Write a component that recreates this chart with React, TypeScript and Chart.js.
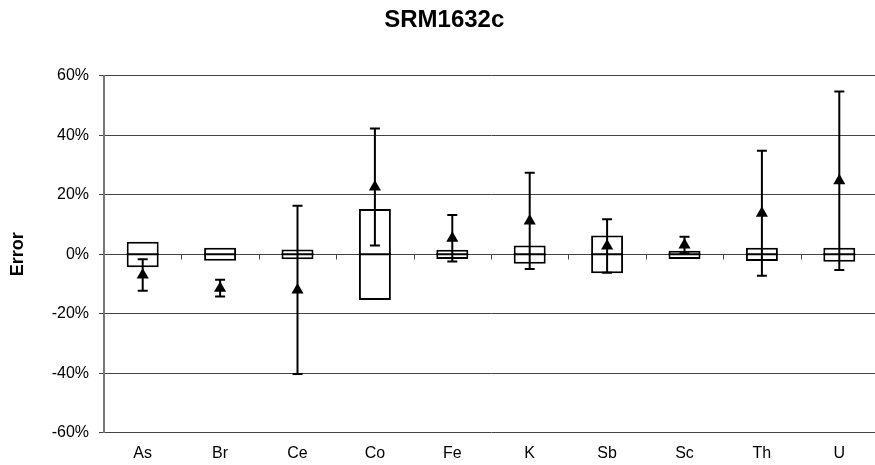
import React, { useEffect, useRef } from "react";
import { Chart, registerables } from "chart.js";

Chart.register(...registerables);

const categories = ["As", "Br", "Ce", "Co", "Fe", "K", "Sb", "Sc", "Th", "U"];
const boxUpper = [4.2, 2.2, 1.6, 15.2, 1.5, 2.9, 6.3, 1.2, 2.2, 2.2];
const boxLower = [-4.4, -2.2, -1.7, -15.4, -1.6, -3.2, -6.4, -1.6, -2.3, -2.5];
const measured = [-7.0, -11.4, -12.0, 22.6, 5.4, 11.2, 2.8, 3.1, 13.8, 24.7];
const uncertainty = [5.3, 2.8, 28.3, 19.7, 7.8, 16.2, 9.0, 2.8, 21.0, 30.0];
const yTicks = [-60, -40, -20, 0, 20, 40, 60];

const FONT = "'Liberation Sans', Arial, Helvetica, sans-serif";

const errorBarPlugin = {
  id: "errorBars",
  beforeDatasetsDraw(chart: any) {
    // small category-boundary ticks on the zero line
    const x = chart.scales.x;
    const y = chart.scales.y;
    const ctx = chart.ctx;
    const y0 = Math.round(y.getPixelForValue(0)) + 0.5;
    ctx.save();
    ctx.strokeStyle = "#444";
    ctx.lineWidth = 1;
    for (let i = 0; i < categories.length - 1; i++) {
      const xp = Math.round((x.getPixelForValue(i) + x.getPixelForValue(i + 1)) / 2) + 0.5;
      ctx.beginPath();
      ctx.moveTo(xp, y0);
      ctx.lineTo(xp, y0 + 5);
      ctx.stroke();
    }
    ctx.restore();
  },
  afterDatasetDraw(chart: any, args: any) {
    if (args.index !== 1) return;
    // box midline at 0
    const y = chart.scales.y;
    const ctx = chart.ctx;
    const y0 = y.getPixelForValue(0);
    ctx.save();
    ctx.strokeStyle = "#000";
    ctx.lineWidth = 2;
    args.meta.data.forEach((bar: any) => {
      ctx.beginPath();
      ctx.moveTo(bar.x - bar.width / 2, y0);
      ctx.lineTo(bar.x + bar.width / 2, y0);
      ctx.stroke();
    });
    ctx.restore();
  },
  beforeDatasetDraw(chart: any, args: any) {
    if (args.index !== 0) return;
    const x = chart.scales.x;
    const y = chart.scales.y;
    const ctx = chart.ctx;
    ctx.save();
    ctx.strokeStyle = "#000";
    ctx.lineWidth = 2;
    const cap = 5;
    measured.forEach((m, i) => {
      const xp = x.getPixelForValue(i);
      const top = y.getPixelForValue(m + uncertainty[i]);
      const bot = y.getPixelForValue(m - uncertainty[i]);
      ctx.beginPath();
      ctx.moveTo(xp, top);
      ctx.lineTo(xp, bot);
      ctx.moveTo(xp - cap, top);
      ctx.lineTo(xp + cap, top);
      ctx.moveTo(xp - cap, bot);
      ctx.lineTo(xp + cap, bot);
      ctx.stroke();
    });
    ctx.restore();
  },
};

export default function App() {
  const ref = useRef<HTMLCanvasElement | null>(null);

  useEffect(() => {
    if (!ref.current) return;
    const chart = new Chart(ref.current, {
      type: "bar",
      data: {
        labels: categories,
        datasets: [
          {
            type: "line",
            label: "Measured",
            data: measured,
            showLine: false,
            pointStyle: "triangle",
            pointRadius: 7,
            pointBackgroundColor: "#000",
            pointBorderColor: "#000",
            pointBorderWidth: 0,
            order: 0,
          } as any,
          {
            type: "bar",
            label: "Range",
            data: boxLower.map((v, i) => [v, boxUpper[i]]),
            backgroundColor: "#fff",
            borderColor: "#000",
            borderWidth: 2,
            borderSkipped: false,
            barPercentage: 0.413,
            categoryPercentage: 1,
            order: 1,
          } as any,
        ],
      },
      options: {
        responsive: false,
        animation: false,
        devicePixelRatio: 1,
        layout: { padding: { left: 9, right: 5.5, top: 0, bottom: 0 } },
        plugins: {
          legend: { display: false },
          tooltip: { enabled: false },
          title: {
            display: true,
            text: "SRM1632c",
            color: "#000",
            font: { family: FONT, size: 24, weight: "bold", lineHeight: 1.2 },
            padding: { top: 6, bottom: 41 },
          },
        },
        scales: {
          x: {
            type: "category",
            offset: true,
            grid: { display: false, drawTicks: false },
            border: { display: false },
            ticks: {
              color: "#000",
              padding: 11,
              font: { family: FONT, size: 16 },
            },
            afterFit: (s: any) => {
              s.height = 32.3;
            },
          },
          y: {
            min: -60,
            max: 60,
            afterBuildTicks: (s: any) => {
              s.ticks = yTicks.map((v) => ({ value: v }));
            },
            grid: {
              color: "#444",
              lineWidth: 1,
              drawTicks: true,
              tickLength: 5,
            },
            border: { display: true, color: "#777", width: 2 },
            ticks: {
              color: "#000",
              padding: 10,
              font: { family: FONT, size: 16 },
              callback: (v: any) => `${v}%`,
            },
            title: {
              display: true,
              text: "Error",
              color: "#000",
              font: { family: FONT, size: 18, weight: "bold", lineHeight: 1 },
              padding: { top: 0, bottom: 0 },
            },
            afterFit: (s: any) => {
              s.width = 95;
            },
          },
        },
      },
      plugins: [errorBarPlugin],
    });
    return () => chart.destroy();
  }, []);

  return (
    <div
      style={{
        position: "fixed",
        left: 0,
        top: 0,
        width: 875,
        height: 465,
        overflow: "hidden",
        background: "#fff",
      }}
    >
      <canvas ref={ref} width={885} height={465} style={{ width: 885, height: 465, display: "block" }} />
    </div>
  );
}
